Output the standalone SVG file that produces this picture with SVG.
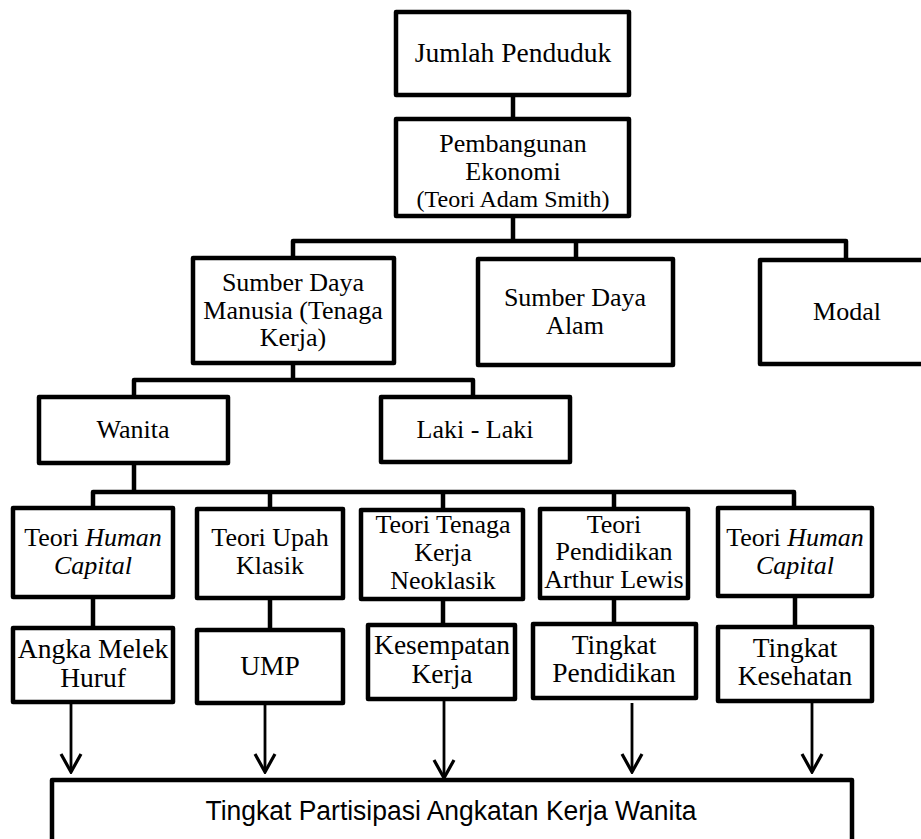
<svg xmlns="http://www.w3.org/2000/svg" width="921" height="839" viewBox="0 0 921 839">
<defs>
<style>
.box{fill:#fff;stroke:#000;stroke-width:4.5;stroke-linejoin:round}
.con{fill:none;stroke:#000;stroke-width:4.5;stroke-linejoin:round;stroke-linecap:square}
.arr{fill:none;stroke:#000;stroke-width:2.8}
.t{font-family:"Liberation Serif","Times New Roman",serif;font-size:26px;fill:#000;text-anchor:middle}
.tb{font-family:"Liberation Serif","Times New Roman",serif;font-size:27.5px;fill:#000;text-anchor:middle}
.s{font-family:"Liberation Sans",Arial,sans-serif;font-size:27px;fill:#000;text-anchor:middle}
</style>
<marker id="ah" viewBox="-2 -12 22 24" refX="18" refY="0" markerWidth="22" markerHeight="24" markerUnits="userSpaceOnUse" orient="auto">
<path d="M0,-10 L18,0 L0,10" fill="none" stroke="#000" stroke-width="3.2" stroke-linejoin="miter"/>
</marker>
</defs>
<rect width="921" height="839" fill="#fff"/>
<g id="connectors">
<path class="con" d="M513,95 V119"/>
<path class="con" d="M513,216 V241 M293,258 V241 H846 V259 M576,241 V258"/>
<path class="con" d="M293,363 V380 M134,396 V380 H473 V396"/>
<path class="con" d="M134,463 V492 M93,508 V492 H794 V508 M270,492 V508 M443,492 V509 M614,492 V508"/>
<path class="con" d="M93,597 V628 M270,598 V630 M443,599 V625 M614,598 V624 M795,596 V627"/>
<line class="arr" x1="71" y1="703" x2="71" y2="772" marker-end="url(#ah)"/>
<line class="arr" x1="265" y1="704" x2="265" y2="772" marker-end="url(#ah)"/>
<line class="arr" x1="444" y1="700" x2="444" y2="778" marker-end="url(#ah)"/>
<line class="arr" x1="632" y1="703" x2="632" y2="772" marker-end="url(#ah)"/>
<line class="arr" x1="812" y1="703" x2="812" y2="772" marker-end="url(#ah)"/>
</g>
<g id="jumlah"><rect class="box" x="396" y="12" width="233" height="83"/><text class="t" x="513" y="62" style="font-size:27.5px">Jumlah Penduduk</text></g>
<g id="pembangunan"><rect class="box" x="396" y="119" width="233" height="97"/><text class="t" x="513" y="152">Pembangunan</text><text class="t" x="513" y="180">Ekonomi</text><text class="t" x="513" y="207" style="font-size:24px">(Teori Adam Smith)</text></g>
<g id="sdm"><rect class="box" x="193" y="258" width="201" height="105"/><text class="t" x="293" y="291">Sumber Daya</text><text class="t" x="293" y="319">Manusia (Tenaga</text><text class="t" x="293" y="346">Kerja)</text></g>
<g id="sda"><rect class="box" x="478" y="259" width="195" height="106"/><text class="t" x="575" y="306">Sumber Daya</text><text class="t" x="575" y="334">Alam</text></g>
<g id="modal"><rect class="box" x="760" y="260" width="180" height="104"/><text class="t" x="847" y="320">Modal</text></g>
<g id="wanita"><rect class="box" x="39" y="397" width="189" height="66"/><text class="t" x="133" y="438">Wanita</text></g>
<g id="laki"><rect class="box" x="381" y="397" width="189" height="65"/><text class="t" x="475" y="438">Laki - Laki</text></g>
<g id="teori1"><rect class="box" x="13" y="508" width="160" height="89"/><text class="t" x="93" y="546">Teori <tspan font-style="italic">Human</tspan></text><text class="t" x="93" y="574" font-style="italic">Capital</text></g>
<g id="teori2"><rect class="box" x="197" y="509" width="146" height="89"/><text class="t" x="270" y="546">Teori Upah</text><text class="t" x="270" y="574">Klasik</text></g>
<g id="teori3"><rect class="box" x="361" y="510" width="162" height="89"/><text class="t" x="443" y="533">Teori Tenaga</text><text class="t" x="443" y="561">Kerja</text><text class="t" x="443" y="589">Neoklasik</text></g>
<g id="teori4"><rect class="box" x="540" y="509" width="148" height="89"/><text class="t" x="614" y="533">Teori</text><text class="t" x="614" y="560">Pendidikan</text><text class="t" x="614" y="588">Arthur Lewis</text></g>
<g id="teori5"><rect class="box" x="718" y="508" width="154" height="88"/><text class="t" x="795" y="546">Teori <tspan font-style="italic">Human</tspan></text><text class="t" x="795" y="574" font-style="italic">Capital</text></g>
<g id="amh"><rect class="box" x="13" y="628" width="160" height="74"/><text class="tb" x="93" y="658">Angka Melek</text><text class="tb" x="93" y="687">Huruf</text></g>
<g id="ump"><rect class="box" x="197" y="630" width="146" height="73"/><text class="tb" x="270" y="675">UMP</text></g>
<g id="kesempatan"><rect class="box" x="368" y="625" width="147" height="74"/><text class="tb" x="442" y="654">Kesempatan</text><text class="tb" x="442" y="683">Kerja</text></g>
<g id="pendidikan"><rect class="box" x="533" y="624" width="163" height="74"/><text class="tb" x="614" y="654">Tingkat</text><text class="tb" x="614" y="682">Pendidikan</text></g>
<g id="kesehatan"><rect class="box" x="718" y="627" width="154" height="74"/><text class="tb" x="795" y="657">Tingkat</text><text class="tb" x="795" y="685">Kesehatan</text></g>
<g id="tpak"><rect class="box" x="52" y="780" width="800" height="72"/><text class="s" x="451" y="820" textLength="491" lengthAdjust="spacingAndGlyphs">Tingkat Partisipasi Angkatan Kerja Wanita</text></g>
</svg>
